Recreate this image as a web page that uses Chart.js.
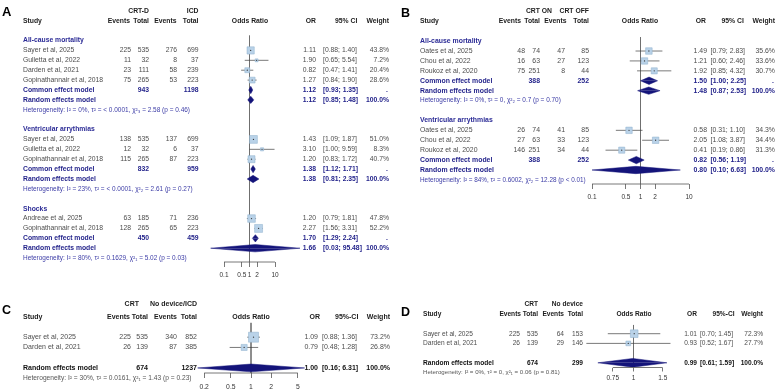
<!DOCTYPE html>
<html><head><meta charset="utf-8">
<script src="https://cdn.jsdelivr.net/npm/chart.js@4.4.1/dist/chart.umd.min.js"></script>
<style>
html,body{margin:0;padding:0;background:#fff;}
body{width:776px;height:391px;position:relative;overflow:hidden;}
canvas{position:absolute;left:0;top:0;}
</style></head><body>
<canvas id="pA" width="776" height="391"></canvas>
<canvas id="pB" width="776" height="391"></canvas>
<canvas id="pC" width="776" height="391"></canvas>
<canvas id="pD" width="776" height="391"></canvas>
<script>
// ===================== DATA =====================
// ---- Panel A: CRT-D vs ICD
const A_groups = ["All-cause mortality", "Ventricular arrythmias", "Shocks"];
const A_study = ["Sayer et al, 2025", "Gulletta et al, 2022", "Darden et al, 2021", "Gopinathannair et al, 2018",
                 "Sayer et al, 2025", "Gulletta et al, 2022", "Gopinathannair et al, 2018",
                 "Andreae et al, 2025", "Gopinathannair et al, 2018"];
const A_groupOf = [0, 0, 0, 0, 1, 1, 1, 2, 2];
const A_evT  = [225, 11, 23, 75, 138, 12, 115, 63, 128];
const A_totT = [535, 32, 111, 265, 535, 32, 265, 185, 265];
const A_evC  = [276, 8, 58, 53, 137, 6, 87, 71, 65];
const A_totC = [699, 37, 239, 223, 699, 37, 223, 236, 223];
const A_or = [1.11, 1.90, 0.82, 1.27, 1.43, 3.10, 1.20, 1.20, 2.27];
const A_lo = [0.88, 0.65, 0.47, 0.84, 1.09, 1.00, 0.83, 0.79, 1.56];
const A_hi = [1.40, 5.54, 1.41, 1.90, 1.87, 9.59, 1.72, 1.81, 3.31];
const A_w  = [43.8, 7.2, 20.4, 28.6, 51.0, 8.3, 40.7, 47.8, 52.2];
const A_sumT = [943, 832, 450];
const A_sumC = [1198, 959, 459];
const A_ceOR = [1.12, 1.38, 1.70];
const A_ceLo = [0.93, 1.12, 1.29];
const A_ceHi = [1.35, 1.71, 2.24];
const A_reOR = [1.12, 1.38, 1.66];
const A_reLo = [0.85, 0.81, 0.03];
const A_reHi = [1.48, 2.35, 95.48];
const A_reW  = [100.0, 100.0, 100.0];
const A_het = ["I² = 0%, τ² = < 0.0001, χ²₃ = 2.58 (p = 0.46)",
               "I² = 23%, τ² = < 0.0001, χ²₂ = 2.61 (p = 0.27)",
               "I² = 80%, τ² = 0.1629, χ²₁ = 5.02 (p = 0.03)"];
const A_ticks = [0.1, 0.5, 1, 2, 10];

// ---- Panel B: CRT ON vs CRT OFF
const B_groups = ["All-cause mortality", "Ventricular arrythmias"];
const B_study = ["Oates et al, 2025", "Chou et al, 2022", "Roukoz et al, 2020",
                 "Oates et al, 2025", "Chou et al, 2022", "Roukoz et al, 2020"];
const B_groupOf = [0, 0, 0, 1, 1, 1];
const B_evT  = [48, 16, 75, 26, 27, 146];
const B_totT = [74, 63, 251, 74, 63, 251];
const B_evC  = [47, 27, 8, 41, 33, 34];
const B_totC = [85, 123, 44, 85, 123, 44];
const B_or = [1.49, 1.21, 1.92, 0.58, 2.05, 0.41];
const B_lo = [0.79, 0.60, 0.85, 0.31, 1.08, 0.19];
const B_hi = [2.83, 2.46, 4.32, 1.10, 3.87, 0.86];
const B_w  = [35.6, 33.6, 30.7, 34.3, 34.4, 31.3];
const B_sumT = [388, 388];
const B_sumC = [252, 252];
const B_ceOR = [1.50, 0.82];
const B_ceLo = [1.00, 0.56];
const B_ceHi = [2.25, 1.19];
const B_reOR = [1.48, 0.80];
const B_reLo = [0.87, 0.10];
const B_reHi = [2.53, 6.63];
const B_reW  = [100.0, 100.0];
const B_het = ["I² = 0%, τ² = 0, χ²₂ = 0.7 (p = 0.70)",
               "I² = 84%, τ² = 0.6002, χ²₂ = 12.28 (p < 0.01)"];
const B_ticks = [0.1, 0.5, 1, 2, 10];

// ---- Panel C: CRT vs No device/ICD
const C_study = ["Sayer et al, 2025", "Darden et al, 2021"];
const C_evT  = [225, 26];
const C_totT = [535, 139];
const C_evC  = [340, 87];
const C_totC = [852, 385];
const C_or = [1.09, 0.79];
const C_lo = [0.88, 0.48];
const C_hi = [1.36, 1.28];
const C_w  = [73.2, 26.8];
const C_sumT = [674];
const C_sumC = [1237];
const C_reOR = [1.00];
const C_reLo = [0.16];
const C_reHi = [6.31];
const C_reW  = [100.0];
const C_het = ["I² = 30%, τ² = 0.0161, χ²₁ = 1.43 (p = 0.23)"];
const C_ticks = [0.2, 0.5, 1, 2, 5];

// ---- Panel D: CRT vs No device
const D_study = ["Sayer et al, 2025", "Darden et al, 2021"];
const D_evT  = [225, 26];
const D_totT = [535, 139];
const D_evC  = [64, 29];
const D_totC = [153, 146];
const D_or = [1.01, 0.93];
const D_lo = [0.70, 0.52];
const D_hi = [1.45, 1.67];
const D_w  = [72.3, 27.7];
const D_sumT = [674];
const D_sumC = [299];
const D_reOR = [0.99];
const D_reLo = [0.61];
const D_reHi = [1.59];
const D_reW  = [100.0];
const D_het = ["I² = 0%, τ² = 0, χ²₁ = 0.06 (p = 0.81)"];
const D_ticks = [0.75, 1, 1.5];

// ===================== RENDERING =====================
const FAM = '"Liberation Sans", Arial, Helvetica, sans-serif';
const W = 776, H = 391, AXH = 16;
const NAVY = '#14147a';

function T(ctx, s, x, y, align, font, color) {
  ctx.font = font; ctx.fillStyle = color; ctx.textAlign = align; ctx.textBaseline = 'middle';
  ctx.fillText(s, x, y);
}
function fitT(ctx, s, x, y, width, color) {
  ctx.font = '10px ' + FAM;
  const sz = 10 * width / ctx.measureText(s).width;
  T(ctx, s, x, y, 'left', sz.toFixed(2) + 'px ' + FAM, color);
}
const F = (sz, bold) => (bold ? 'bold ' : '') + sz + 'px ' + FAM;
const ciTxt = (lo, hi) => '[' + lo.toFixed(2) + '; ' + hi.toFixed(2) + ']';

function layoutRows(P) {
  const out = {label: [], study: [], common: [], random: [], het: []};
  let r = 2;
  const nG = P.groups ? P.groups.length : 1;
  for (let g = 0; g < nG; g++) {
    if (P.groups) out.label[g] = r++;
    P.study.forEach((s, i) => { if ((P.groupOf ? P.groupOf[i] : 0) === g) out.study[i] = r++; });
    if (P.ceOR) out.common[g] = r++; else r++;
    out.random[g] = r++;
    out.het[g] = r++;
    r++;
  }
  return out;
}

function drawTexts(chart, P, C, rows) {
  const ctx = chart.ctx, ys = chart.scales.y;
  const Y = r => ys.getPixelForValue(r);
  ctx.save();
  T(ctx, C.letter, C.letterX, C.letterY, 'left', F(C.letterSize, true), '#000');
  const y1 = Y(C.h1Row), y0 = Y(0), hf = F(C.hs, true), hc = C.headColor;
  T(ctx, P.armT, C.hT, y1, 'right', hf, hc);
  T(ctx, P.armC, C.hC, y1, 'right', hf, hc);
  T(ctx, 'Study', C.study, y0, 'left', hf, hc);
  T(ctx, 'Events', C.hEvT, y0, 'right', hf, hc);
  T(ctx, 'Total', C.hTotT, y0, 'right', hf, hc);
  T(ctx, 'Events', C.hEvC, y0, 'right', hf, hc);
  T(ctx, 'Total', C.hTotC, y0, 'right', hf, hc);
  T(ctx, 'Odds Ratio', C.hOdds, y0, 'center', hf, hc);
  T(ctx, 'OR', C.hOR, y0, 'right', hf, hc);
  T(ctx, P.ciHead, C.hCIL, y0, 'left', hf, hc);
  T(ctx, 'Weight', C.hW, y0, 'right', hf, hc);
  const sf = F(C.fs, false), tc = C.textColor;
  P.study.forEach((s, i) => {
    const y = Y(rows.study[i]);
    T(ctx, s, C.study, y, 'left', sf, tc);
    T(ctx, String(P.evT[i]), C.evT, y, 'right', sf, tc);
    T(ctx, String(P.totT[i]), C.totT, y, 'right', sf, tc);
    T(ctx, String(P.evC[i]), C.evC, y, 'right', sf, tc);
    T(ctx, String(P.totC[i]), C.totC, y, 'right', sf, tc);
    T(ctx, P.or[i].toFixed(2), C.orR, y, 'right', sf, tc);
    T(ctx, ciTxt(P.lo[i], P.hi[i]), C.ciL, y, 'left', sf, tc);
    T(ctx, P.w[i].toFixed(1) + '%', C.wR, y, 'right', sf, tc);
  });
  const bf = F(C.bs, true), sc = C.sumColor;
  const nG = P.groups ? P.groups.length : 1;
  for (let g = 0; g < nG; g++) {
    if (P.groups) T(ctx, P.groups[g], C.study, Y(rows.label[g]), 'left', bf, C.grpColor);
    let sumRow = rows.random[g];
    if (P.ceOR) {
      sumRow = rows.common[g];
      const y = Y(rows.common[g]);
      T(ctx, 'Common effect model', C.study, y, 'left', bf, sc);
      T(ctx, P.ceOR[g].toFixed(2), C.orR, y, 'right', bf, sc);
      T(ctx, ciTxt(P.ceLo[g], P.ceHi[g]), C.ciL, y, 'left', bf, sc);
      T(ctx, '.', C.wR - 1, y, 'right', bf, sc);
    }
    const yr = Y(rows.random[g]);
    T(ctx, 'Random effects model', C.study, yr, 'left', bf, sc);
    T(ctx, P.reOR[g].toFixed(2), C.orR, yr, 'right', bf, sc);
    T(ctx, ciTxt(P.reLo[g], P.reHi[g]), C.ciL, yr, 'left', bf, sc);
    T(ctx, P.reW[g].toFixed(1) + '%', C.wR, yr, 'right', bf, sc);
    T(ctx, String(P.sumT[g]), C.totT, Y(sumRow), 'right', bf, sc);
    T(ctx, String(P.sumC[g]), C.totC, Y(sumRow), 'right', bf, sc);
    fitT(ctx, 'Heterogeneity: ' + P.het[g], C.study, Y(rows.het[g]), C.hetW[g], C.hetColor);
  }
  ctx.restore();
}

function lineDs(pts, color, width, order) {
  return {data: pts, showLine: true, borderColor: color, borderWidth: width, pointRadius: 0,
          pointHoverRadius: 0, fill: false, order: order};
}

function makePanel(id, P, G, C) {
  const rows = layoutRows(P);
  const yMin = (G.areaTop - G.row0) / G.rowH;
  const yMax = (G.axisY - G.row0) / G.rowH;
  const xMin = Math.pow(10, (G.areaL - G.p1) / G.dec);
  const xMax = Math.pow(10, (G.areaR - G.p1) / G.dec);
  const ds = [];
  ds.push(lineDs([{x: 1, y: G.refTop}, {x: 1, y: yMax}], '#6e6e6e', 0.8, 9));
  P.study.forEach((s, i) => ds.push(lineDs([{x: P.lo[i], y: rows.study[i]}, {x: P.hi[i], y: rows.study[i]}], '#404040', 0.7, 4)));
  const pts = P.or.map((v, i) => ({x: v, y: rows.study[i]}));
  ds.push({data: pts, pointStyle: 'rect', pointRadius: P.w.map(w => G.sq * Math.sqrt(w) / Math.SQRT2),
           pointHoverRadius: 0, backgroundColor: '#b9d2e8', borderColor: '#8fb0cc', borderWidth: 0.5, order: 3});
  ds.push({data: pts, pointStyle: 'circle', pointRadius: 0.65, pointHoverRadius: 0,
           backgroundColor: '#3a3a3a', borderWidth: 0, order: 1});
  const diamond = (est, lo, hi, r) => {
    [-1, 1].forEach(sgn => ds.push({
      data: [{x: lo, y: r}, {x: est, y: r + sgn * G.dh}, {x: hi, y: r}], showLine: true,
      fill: {value: r}, backgroundColor: NAVY, borderColor: NAVY, borderWidth: 0.5,
      pointRadius: 0, pointHoverRadius: 0, order: 0}));
  };
  (P.ceOR || []).forEach((v, g) => diamond(v, P.ceLo[g], P.ceHi[g], rows.common[g]));
  P.reOR.forEach((v, g) => diamond(v, P.reLo[g], P.reHi[g], rows.random[g]));

  new Chart(document.getElementById(id), {
    type: 'scatter',
    data: {datasets: ds},
    options: {
      responsive: false, devicePixelRatio: 1, animation: false, events: [],
      layout: {padding: {left: G.areaL, right: W - G.areaR, top: G.areaTop, bottom: H - G.axisY - AXH}},
      plugins: {legend: {display: false}, tooltip: {enabled: false}},
      scales: {
        x: {
          type: 'logarithmic', min: xMin, max: xMax, bounds: 'data',
          afterBuildTicks: s => { s.ticks = G.ticks.map(v => ({value: v})); },
          afterFit: s => { s.height = AXH; },
          ticks: {autoSkip: false, maxRotation: 0, minRotation: 0, padding: G.tickPad, color: '#333',
                  font: {family: FAM, size: G.tickFont}, callback: v => String(v)},
          grid: {display: true, drawOnChartArea: false, drawTicks: true, tickLength: G.tickLen,
                 color: '#555', tickColor: '#555', lineWidth: 0.8},
          border: {display: false}
        },
        y: {type: 'linear', reverse: true, min: yMin, max: yMax, display: false}
      }
    },
    plugins: [{
      id: 'forestText' + id,
      afterDraw(chart) {
        const ctx = chart.ctx, xs = chart.scales.x, yb = chart.chartArea.bottom;
        ctx.save();
        ctx.strokeStyle = '#555'; ctx.lineWidth = 0.8;
        ctx.beginPath();
        ctx.moveTo(xs.getPixelForValue(G.ticks[0]), yb);
        ctx.lineTo(xs.getPixelForValue(G.ticks[G.ticks.length - 1]), yb);
        ctx.stroke();
        ctx.restore();
        drawTexts(chart, P, C, rows);
      }
    }]
  });
}

const blueStyle = {textColor: '#4d4d4d', headColor: '#1c1c1c', grpColor: '#2c2c96', sumColor: '#1e1e88', hetColor: '#3c3ca6'};
const greyStyle = {textColor: '#4d4d4d', headColor: '#1c1c1c', grpColor: '#111', sumColor: '#111', hetColor: '#555'};

makePanel('pA',
  {armT: 'CRT-D', armC: 'ICD', ciHead: '95% CI', groups: A_groups, groupOf: A_groupOf, study: A_study,
   evT: A_evT, totT: A_totT, evC: A_evC, totC: A_totC, or: A_or, lo: A_lo, hi: A_hi, w: A_w,
   sumT: A_sumT, sumC: A_sumC, ceOR: A_ceOR, ceLo: A_ceLo, ceHi: A_ceHi,
   reOR: A_reOR, reLo: A_reLo, reHi: A_reHi, reW: A_reW, het: A_het},
  {p1: 249.5, dec: 25.5, areaL: 195, areaR: 330, row0: 15, rowH: 10.125, areaTop: 0, axisY: 262,
   refTop: 1.5, ticks: A_ticks, tickLen: 5, tickPad: 4, tickFont: 6.5, sq: 1.1, dh: 0.37},
  Object.assign({letter: 'A', letterX: 2, letterY: 12, letterSize: 13, h1Row: -1,
   study: 23, hEvT: 130, hTotT: 149, hEvC: 176.5, hTotC: 198.5, hT: 149, hC: 198.5,
   evT: 131, totT: 149, evC: 177, totC: 198.5, hOdds: 250, hOR: 316, hCIL: 335, hW: 389,
   orR: 316, ciL: 323, wR: 389, fs: 6.8, bs: 6.8, hs: 6.8, hetW: [167, 170, 164]}, blueStyle));

makePanel('pB',
  {armT: 'CRT ON', armC: 'CRT OFF', ciHead: '95% CI', groups: B_groups, groupOf: B_groupOf, study: B_study,
   evT: B_evT, totT: B_totT, evC: B_evC, totC: B_totC, or: B_or, lo: B_lo, hi: B_hi, w: B_w,
   sumT: B_sumT, sumC: B_sumC, ceOR: B_ceOR, ceLo: B_ceLo, ceHi: B_ceHi,
   reOR: B_reOR, reLo: B_reLo, reHi: B_reHi, reW: B_reW, het: B_het},
  {p1: 640.5, dec: 48.5, areaL: 580, areaR: 700, row0: 16.6, rowH: 10.2, areaTop: 0, axisY: 184,
   refTop: 1.6, ticks: B_ticks, tickLen: 5, tickPad: 4, tickFont: 6.5, sq: 1.1, dh: 0.37},
  Object.assign({letter: 'B', letterX: 401, letterY: 14, letterSize: 12.5, h1Row: -1,
   study: 420, hEvT: 521, hTotT: 540, hEvC: 566.5, hTotC: 589, hT: 552, hC: 589,
   evT: 525, totT: 540, evC: 565, totC: 589, hOdds: 640, hOR: 706, hCIL: 721.5, hW: 775,
   orR: 707, ciL: 710.5, wR: 775, fs: 6.9, bs: 6.9, hs: 6.8, hetW: [141, 166]}, blueStyle));

makePanel('pC',
  {armT: 'CRT', armC: 'No device/ICD', ciHead: '95%-CI', study: C_study,
   evT: C_evT, totT: C_totT, evC: C_evC, totC: C_totC, or: C_or, lo: C_lo, hi: C_hi, w: C_w,
   sumT: C_sumT, sumC: C_sumC, reOR: C_reOR, reLo: C_reLo, reHi: C_reHi, reW: C_reW, het: C_het},
  {p1: 251, dec: 67, areaL: 185, areaR: 320, row0: 316.7, rowH: 10.25, areaTop: 296, axisY: 373,
   refTop: 0.6, ticks: C_ticks, tickLen: 5, tickPad: 5, tickFont: 6.8, sq: 1.17, dh: 0.38},
  Object.assign({letter: 'C', letterX: 2, letterY: 311, letterSize: 12.5, h1Row: -1.2,
   study: 23, hEvT: 130, hTotT: 148, hEvC: 177, hTotC: 197, hT: 139, hC: 197,
   evT: 131, totT: 148, evC: 177, totC: 197, hOdds: 251, hOR: 320, hCIL: 335, hW: 390,
   orR: 318, ciL: 322, wR: 390, fs: 7, bs: 7, hs: 7, hetW: [169]}, greyStyle));

makePanel('pD',
  {armT: 'CRT', armC: 'No device', ciHead: '95%-CI', study: D_study,
   evT: D_evT, totT: D_totT, evC: D_evC, totC: D_totC, or: D_or, lo: D_lo, hi: D_hi, w: D_w,
   sumT: D_sumT, sumC: D_sumC, reOR: D_reOR, reLo: D_reLo, reHi: D_reHi, reW: D_reW, het: D_het},
  {p1: 633.5, dec: 166, areaL: 575, areaR: 700, row0: 314.3, rowH: 9.7, areaTop: 296, axisY: 367.5,
   refTop: 1.1, ticks: D_ticks, tickLen: 4, tickPad: 2.6, tickFont: 6.5, sq: 0.9, dh: 0.45},
  Object.assign({letter: 'D', letterX: 401, letterY: 312.5, letterSize: 12.5, h1Row: -1.03,
   study: 423, hEvT: 521, hTotT: 538, hEvC: 564, hTotC: 583, hT: 538, hC: 583,
   evT: 520, totT: 538, evC: 564, totC: 583, hOdds: 634, hOR: 697, hCIL: 712.5, hW: 763,
   orR: 697, ciL: 700, wR: 763, fs: 6.6, bs: 6.6, hs: 6.6, hetW: [137]}, greyStyle));
</script>
</body></html>
